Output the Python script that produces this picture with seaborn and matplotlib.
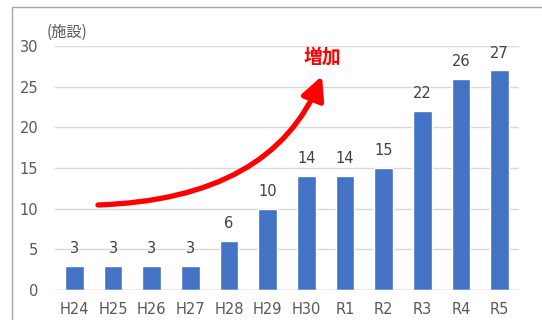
import numpy as np
import matplotlib
matplotlib.use("Agg")
import matplotlib.pyplot as plt
import matplotlib.patches as mpatches
import pandas as pd
import seaborn as sns

# data
years = ["H24", "H25", "H26", "H27", "H28", "H29", "H30", "R1", "R2", "R3", "R4", "R5"]
counts = [3, 3, 3, 3, 6, 10, 14, 14, 15, 22, 26, 27]
yticks = [0, 5, 10, 15, 20, 25, 30]

df = pd.DataFrame({"year": years, "count": counts})

sns.set_style("white")
plt.rcParams['font.family'] = ['DejaVu Sans', 'Noto Sans CJK JP']

fig = plt.figure(figsize=(5.42, 3.2), dpi=100)
ax = fig.add_axes([55 / 542, 30 / 320, 464 / 542, 244 / 320])

sns.barplot(data=df, x="year", y="count", color="#4472C4", width=0.49,
            saturation=1, ax=ax, zorder=3)

ax.set_ylim(0, 30)
ax.set_xlim(-0.5, len(years) - 0.5)
ax.set_yticks(yticks)
ax.grid(axis="y", color="#d9d9d9", linewidth=1, zorder=0)
ax.axhline(0, color="#bfbfbf", linewidth=1, zorder=4)
for s in ax.spines.values():
    s.set_visible(False)
ax.set_xlabel("")
ax.set_ylabel("")
ax.tick_params(axis="both", length=0, labelsize=10.5, labelcolor="#595959")
ax.tick_params(axis="x", pad=9)
ax.tick_params(axis="y", pad=12)

# value labels
for cont in ax.containers:
    ax.bar_label(cont, labels=[str(v) for v in counts], padding=7,
                 fontsize=10.5, color="#404040")

# unit label
fig.text(47 / 542, 1 - 32 / 320, "(施設)", fontsize=11, color="#595959",
         va="center", ha="left", family=['Noto Sans CJK JP'])

# red arrow annotation
ax.annotate("", xy=(322 / 542, 1 - 76 / 320), xytext=(98 / 542, 1 - 205 / 320),
            xycoords="figure fraction", textcoords="figure fraction",
            arrowprops=dict(arrowstyle="-|>,head_length=1.4,head_width=0.7",
                            connectionstyle="angle3,angleA=2,angleB=68",
                            color="#ff0000", lw=3.8, shrinkA=0, shrinkB=0),
            zorder=5)
fig.text(322 / 542, 1 - 57 / 320, "増加", fontsize=13.5, fontweight="bold",
         color="#ff0000", ha="center", va="center", family=['Noto Sans CJK JP'])

# outer chart frame
frame = mpatches.Rectangle((12 / 542, -0.1), 1.2, 1 - 7 / 320 + 0.1,
                           transform=fig.transFigure, fill=False,
                           edgecolor="#a6a6a6", linewidth=1)
fig.patches.append(frame)

fig.savefig("out.png", dpi=100)
